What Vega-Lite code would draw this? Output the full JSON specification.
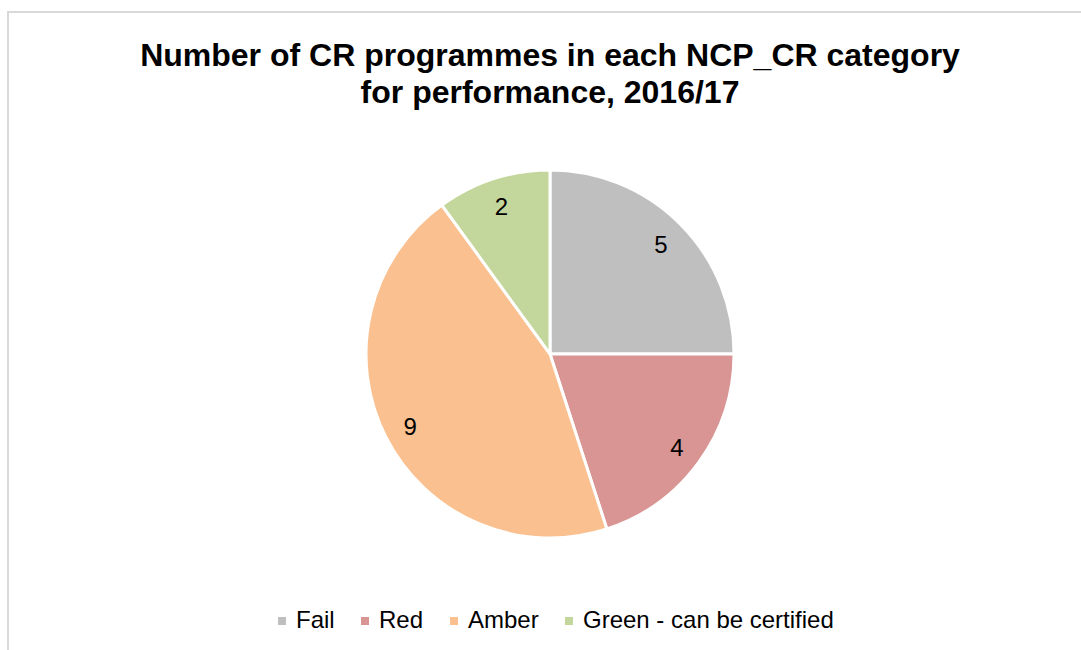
{
  "$schema": "https://vega.github.io/schema/vega-lite/v6.json",
  "autosize": {"type": "none"},
  "padding": {"left": 8, "top": 12, "right": -11, "bottom": -46},
  "width": 1084,
  "height": 684,
  "background": "white",
  "view": {"stroke": "#D9D9D9", "strokeWidth": 2, "fill": "white"},
  "title": {
    "text": ["Number of CR programmes in each NCP_CR category", "for performance, 2016/17"],
    "font": "Liberation Sans",
    "fontSize": 32,
    "fontWeight": "bold",
    "color": "#000000",
    "lineHeight": 37,
    "anchor": "middle",
    "offset": -98
  },
  "data": {
    "values": [
      {"category": "Fail", "count": 5, "order": 1},
      {"category": "Red", "count": 4, "order": 2},
      {"category": "Amber", "count": 9, "order": 3},
      {"category": "Green - can be certified", "count": 2, "order": 4}
    ]
  },
  "encoding": {
    "theta": {"field": "count", "type": "quantitative", "stack": true},
    "order": {"field": "order", "type": "quantitative"}
  },
  "layer": [
    {
      "mark": {"type": "arc", "radius": 184, "stroke": "white", "strokeWidth": 3},
      "encoding": {
        "color": {
          "field": "category",
          "type": "nominal",
          "scale": {
            "domain": ["Fail", "Red", "Amber", "Green - can be certified"],
            "range": ["#BFBFBF", "#D99594", "#FAC090", "#C3D69B"]
          },
          "legend": {
            "title": null,
            "orient": "none",
            "direction": "horizontal",
            "legendX": 262,
            "legendY": 597,
            "padding": 0,
            "symbolType": "square",
            "symbolSize": 64,
            "symbolStrokeWidth": 0,
            "labelFont": "Liberation Sans",
            "labelFontSize": 24,
            "labelColor": "#000000",
            "labelOffset": 2,
            "columnPadding": 18,
            "labelLimit": 400
          }
        }
      }
    },
    {
      "mark": {"type": "text", "radius": 157, "dy": 3, "font": "Liberation Sans", "fontSize": 24, "color": "#000000"},
      "encoding": {
        "text": {"field": "count", "type": "quantitative"}
      }
    }
  ]
}
